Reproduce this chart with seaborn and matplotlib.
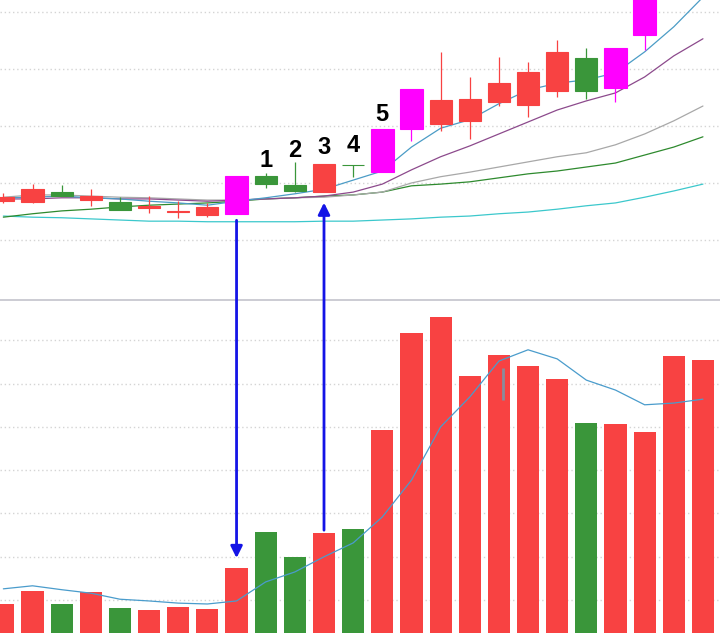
import matplotlib
matplotlib.use("Agg")
import matplotlib.pyplot as plt
from matplotlib.patches import ConnectionPatch
import numpy as np
import pandas as pd
import seaborn as sns

# candles (price units, grid every 1.0)
opens = [10.69, 10.67, 10.84, 10.70, 10.66, 10.56, 10.49, 10.44, 10.45, 11.12, 10.96, 10.85,
         11.32, 11.20, 11.94, 12.03, 12.09, 12.42, 12.37, 12.61, 13.19, 12.67, 13.60]
highs = [10.82, 10.98, 10.96, 10.89, 10.76, 10.78, 10.68, 10.64, 11.12, 11.18, 11.36, 11.33,
         11.32, 11.95, 12.65, 13.29, 12.86, 13.21, 13.12, 13.51, 13.37, 13.37, 14.25]
lows = [10.65, 10.65, 10.77, 10.60, 10.53, 10.47, 10.39, 10.41, 10.45, 10.92, 10.85, 10.85,
        11.11, 11.20, 11.74, 11.92, 11.77, 12.35, 12.15, 12.50, 12.47, 12.42, 13.33]
closes = [10.76, 10.89, 10.78, 10.77, 10.53, 10.60, 10.51, 10.57, 11.12, 10.98, 10.86, 11.33,
          11.32, 11.95, 12.65, 12.46, 12.47, 12.76, 12.95, 13.29, 12.61, 13.37, 14.25]
candle_kind = ['up', 'up', 'down', 'up', 'down', 'up', 'up', 'up', 'limit', 'down', 'down', 'up',
               'down', 'limit', 'limit', 'up', 'up', 'up', 'up', 'up', 'down', 'limit', 'limit']

# moving averages on price
ma5 = [10.74, 10.75, 10.77, 10.74, 10.72, 10.68, 10.65, 10.61, 10.68, 10.74, 10.81, 10.89,
       11.05, 11.21, 11.63, 11.96, 12.11, 12.39, 12.63, 12.75, 12.81, 12.93, 13.30, 13.74, 14.26]
ma10 = [10.72, 10.72, 10.74, 10.74, 10.72, 10.72, 10.70, 10.68, 10.70, 10.72, 10.74, 10.77,
        10.84, 10.98, 11.23, 11.46, 11.65, 11.86, 12.07, 12.28, 12.44, 12.58, 12.86, 13.23, 13.53]
ma20 = [10.75, 10.79, 10.79, 10.77, 10.75, 10.74, 10.72, 10.70, 10.70, 10.72, 10.74, 10.75,
        10.79, 10.84, 11.00, 11.11, 11.19, 11.28, 11.37, 11.46, 11.53, 11.67, 11.86, 12.09, 12.35]
ma30 = [10.40, 10.46, 10.51, 10.54, 10.58, 10.61, 10.63, 10.65, 10.68, 10.72, 10.74, 10.77,
        10.79, 10.84, 10.95, 10.98, 11.02, 11.09, 11.16, 11.21, 11.28, 11.35, 11.49, 11.63, 11.81]
ma60 = [10.42, 10.40, 10.39, 10.37, 10.35, 10.33, 10.33, 10.32, 10.32, 10.32, 10.32, 10.33,
        10.33, 10.35, 10.37, 10.40, 10.42, 10.46, 10.49, 10.54, 10.60, 10.65, 10.75, 10.86, 10.98]

# volume
volumes = [0.67, 0.97, 0.67, 0.95, 0.58, 0.53, 0.60, 0.55, 1.50, 2.33, 1.76, 2.31, 2.40,
           4.69, 6.93, 7.30, 5.94, 6.42, 6.17, 5.87, 4.85, 4.83, 4.64, 6.40, 6.30]
vol_kind = ['up', 'up', 'down', 'up', 'down', 'up', 'up', 'up', 'up', 'down', 'down', 'up', 'down',
            'up', 'up', 'up', 'up', 'up', 'up', 'up', 'down', 'up', 'up', 'up', 'up']
vol_ma = [1.02, 1.09, 1.00, 0.92, 0.78, 0.74, 0.69, 0.67, 0.74, 1.18, 1.41, 1.76, 2.08,
          2.68, 3.53, 4.76, 5.45, 6.28, 6.54, 6.33, 5.84, 5.61, 5.27, 5.31, 5.40]
# small grey cursor mark seen in the volume panel
cursor_x = 17.14
cursor_span = [5.38, 6.12]

labels = ['1', '2', '3', '4', '5']
label_at = [9, 10, 11, 12, 13]

RED = '#f84242'
GREEN = '#3a963a'
MAGENTA = '#ff00ff'
BLUE = '#1414e6'
kind_color = {'up': RED, 'down': GREEN, 'limit': MAGENTA}

sns.set_theme(style="white")
plt.rcParams['font.family'] = ['Liberation Sans', 'DejaVu Sans']

fig = plt.figure(figsize=(7.2, 6.33), dpi=100)
fig.patch.set_facecolor('white')
ax_p = fig.add_axes([0, 333 / 633, 1, 300 / 633])
ax_v = fig.add_axes([0, 0, 1, 333 / 633])

# --- price panel ---
x_all = np.arange(len(ma5))
for ma, col in [(ma60, '#3cc8cc'), (ma30, '#2e8a2e'), (ma20, '#a8a8a8'),
                (ma10, '#8c4a8c'), (ma5, '#4b9cc6')]:
    sns.lineplot(x=x_all, y=ma, ax=ax_p, color=col, linewidth=0.9, sort=False, errorbar=None)

body_w = 0.76
for i in range(len(opens)):
    col = kind_color[candle_kind[i]]
    ax_p.vlines(i, lows[i], highs[i], color=col, linewidth=0.9, zorder=3)
    lo = min(opens[i], closes[i])
    h = abs(closes[i] - opens[i])
    w = body_w + 0.04 if candle_kind[i] == 'limit' else body_w
    ax_p.bar(i, h, bottom=lo, width=w, color=col, edgecolor=col, linewidth=0.8, zorder=4)

gaps = [4.3, 3.6, 7.2, 9.4, 5.8]
for lab, i, g in zip(labels, label_at, gaps):
    ax_p.annotate(lab, xy=(i, highs[i]), xytext=(0, g), textcoords='offset points',
                  ha='center', va='baseline', fontsize=17, fontweight='bold', color='black')

ax_p.set_xlim(-0.115, 24.585)
ax_p.set_ylim(8.947, 14.21)
ax_p.set_yticks([10, 11, 12, 13, 14])
ax_p.grid(axis='y', color='#d4d4d4', linestyle=(0, (1, 2)), linewidth=1)
ax_p.tick_params(left=False, labelleft=False, bottom=False, labelbottom=False)
ax_p.set_xlabel('')
for s in ax_p.spines.values():
    s.set_visible(False)

# --- volume panel ---
df_vol = pd.DataFrame({'idx': np.arange(len(volumes)), 'vol': volumes, 'kind': vol_kind})
sns.barplot(data=df_vol, x='idx', y='vol', hue='kind', palette={'up': RED, 'down': GREEN},
            native_scale=True, width=0.76, dodge=False, saturation=1, errorbar=None,
            legend=False, linewidth=0, ax=ax_v, zorder=2)
sns.lineplot(x=df_vol['idx'], y=vol_ma, ax=ax_v, color='#4a9ccc', linewidth=0.9,
             sort=False, errorbar=None, zorder=3)
ax_v.vlines(cursor_x, cursor_span[0], cursor_span[1], color='#8a8c9c', linewidth=2, zorder=4)

ax_v.set_xlim(-0.115, 24.585)
ax_v.set_ylim(0, 7.69)
ax_v.set_yticks(0.76 + np.arange(7))
ax_v.grid(axis='y', color='#d4d4d4', linestyle=(0, (1, 2)), linewidth=1)
ax_v.set_axisbelow(True)
ax_v.tick_params(left=False, labelleft=False, bottom=False, labelbottom=False)
ax_v.set_xlabel('')
ax_v.set_ylabel('')
for name, s in ax_v.spines.items():
    s.set_visible(name == 'top')
ax_v.spines['top'].set_color('#c4c4cc')
ax_v.spines['top'].set_linewidth(1.2)

# arrows linking candle and volume bar
head = '-|>,head_length=0.5,head_width=0.25'
con1 = ConnectionPatch(xyA=(8, lows[8]), coordsA=ax_p.transData,
                       xyB=(8, volumes[8]), coordsB=ax_v.transData,
                       arrowstyle=head, shrinkA=4.3, shrinkB=7.2, mutation_scale=14,
                       lw=2, color=BLUE, zorder=10)
con2 = ConnectionPatch(xyA=(11, volumes[11]), coordsA=ax_v.transData,
                       xyB=(11, lows[11]), coordsB=ax_p.transData,
                       arrowstyle=head, shrinkA=2, shrinkB=8, mutation_scale=14,
                       lw=2, color=BLUE, zorder=10)
fig.add_artist(con1)
fig.add_artist(con2)

fig.savefig('out.png', dpi=100)
